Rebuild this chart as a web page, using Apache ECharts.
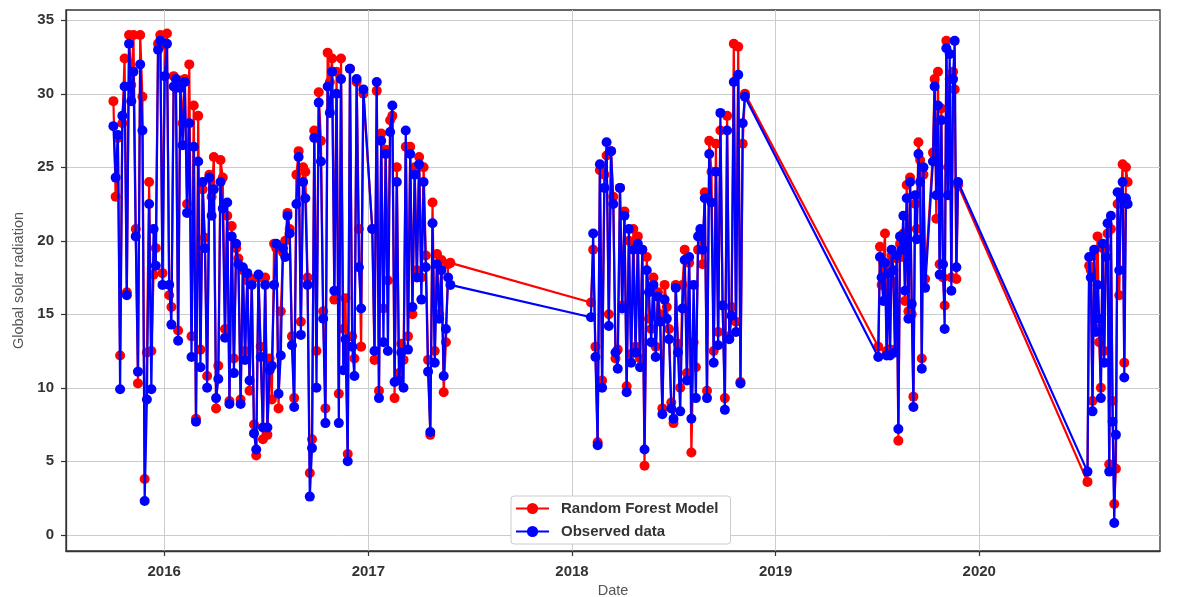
<!DOCTYPE html>
<html>
<head>
<meta charset="utf-8">
<script src="https://cdn.jsdelivr.net/npm/echarts@6/dist/echarts.min.js"></script>
<style>
  html, body { margin: 0; padding: 0; background: #ffffff; overflow: hidden; }
  #chart { width: 1177px; height: 597px; }
</style>
</head>
<body>
<div id="chart"></div>
<script>
// Daily global solar radiation: measured values and Random Forest predictions.
// The record has gaps, so it is kept as runs of readings; each run starts on a
// date and has one reading every `step` days.
const runStarts = ['2015-10-02', '2017-01-08', '2018-02-04', '2019-07-04', '2019-10-10', '2020-07-13'];
const runSteps = [4, 4, 4, 3, 3, 3];

const observedRun1 = [
  27.8, 24.3, 27.2, 9.9, 28.5, 30.5, 16.3, 33.4, 29.5, 31.5,
  20.3, 11.1, 32.0, 27.5, 2.3, 9.2, 22.5, 9.9, 20.8, 18.3,
  33.0, 33.6, 17.0, 31.2, 33.4, 17.0, 14.3, 30.5, 31.0, 13.2,
  30.4, 26.5, 30.8, 21.9, 28.0, 12.1, 26.4, 7.7, 25.4, 11.4,
  24.0, 19.5, 10.0, 24.3, 21.7, 23.5, 9.3, 10.6, 24.0, 22.2,
  13.4, 22.6, 8.9, 20.3, 11.0, 19.8, 18.4, 8.9, 18.2, 11.9,
  17.8, 10.5, 17.0, 6.9, 5.8, 17.7, 12.1, 7.3, 17.0, 7.3,
  11.2, 11.5, 17.0, 19.8, 9.6, 12.2, 19.5, 18.9, 21.7, 20.5,
  12.9, 8.7, 22.5, 25.7, 13.6, 24.0, 22.9, 17.0, 2.6, 5.9,
  27.0, 10.0, 29.4, 25.4, 14.7, 7.6, 30.5, 28.7, 31.5, 16.6,
  30.0, 7.6, 31.0, 11.2, 13.3, 5.0, 31.7, 12.8, 10.8, 31.0,
  18.2, 15.4, 30.3
];
const modelRun1 = [
  29.5, 23.0, 27.0, 12.2, 28.0, 32.4, 16.5, 34.0, 30.6, 34.0,
  20.8, 10.3, 34.0, 29.8, 3.8, 12.4, 24.0, 12.5, 17.7, 19.5,
  33.4, 34.0, 17.8, 33.3, 34.1, 16.3, 15.5, 31.2, 30.4, 13.9,
  30.9, 28.0, 31.0, 22.5, 32.0, 13.5, 29.2, 7.9, 28.5, 12.6,
  23.5, 20.2, 10.8, 24.5, 23.0, 25.7, 8.6, 11.5, 25.5, 24.3,
  14.0, 21.7, 9.1, 21.0, 12.0, 19.5, 18.8, 9.2, 18.0, 12.5,
  17.3, 9.8, 17.4, 7.5, 5.4, 17.5, 12.8, 6.5, 17.5, 6.8,
  12.0, 9.2, 19.8, 19.5, 8.6, 15.2, 19.2, 20.0, 21.9, 20.8,
  13.5, 9.3, 24.5, 26.1, 14.5, 25.0, 24.7, 17.5, 4.2, 6.5,
  27.5, 12.5, 30.1, 26.8, 15.2, 8.6, 32.8, 30.8, 32.4, 16.0,
  31.5, 9.6, 32.4, 14.0, 16.1, 5.5, 31.7, 13.5, 12.0, 30.8,
  20.8, 12.8, 30.0
];

const observedRun2 = [
  20.8, 12.5, 30.8, 9.3, 26.8, 13.1, 25.9, 12.5, 27.4, 29.2,
  10.4, 24.0, 10.5, 12.4, 10.0, 27.5, 12.6, 25.9, 15.5, 24.5,
  17.5, 25.2, 16.0, 24.0, 18.2, 11.1, 7.0, 21.2, 11.7, 18.4,
  14.7, 18.0, 10.8, 14.0, 17.5, 17.0
];
const modelRun2 = [
  20.8, 11.9, 30.2, 9.8, 27.3, 15.4, 26.2, 17.3, 28.2, 28.5,
  9.3, 25.0, 11.0, 13.0, 11.9, 26.4, 13.5, 26.4, 15.0, 25.0,
  18.0, 25.7, 17.5, 25.0, 19.0, 11.9, 6.8, 22.6, 12.5, 19.1,
  15.0, 18.7, 9.7, 13.1, 18.4, 18.5
];

const observedRun3 = [
  14.8, 20.5, 12.1, 6.1, 25.2, 10.0, 23.6, 26.7, 14.2, 26.1,
  22.5, 12.4, 11.3, 23.6, 15.4, 21.7, 9.7, 20.8, 11.7, 19.4,
  12.4, 19.8, 11.4, 19.4, 5.8, 18.0, 16.5, 13.1, 17.0, 12.1,
  16.2, 14.5, 8.2, 16.0, 14.7, 13.3, 8.6, 7.9, 16.8, 12.4,
  8.4, 15.4, 18.7, 10.5, 18.9, 7.9, 17.0, 9.3, 20.3, 20.8,
  19.4, 22.9, 9.3, 25.9, 22.6, 11.7, 24.7, 12.9, 28.7, 15.6,
  8.5, 27.5, 13.3, 14.9, 30.8, 13.8, 31.3, 10.3, 28.0, 29.8
];
const modelRun3 = [
  15.8, 19.4, 12.8, 6.3, 24.8, 10.5, 24.5, 25.8, 15.0, 26.1,
  23.0, 12.0, 12.6, 23.6, 15.6, 22.0, 10.1, 20.0, 12.3, 20.8,
  12.8, 20.3, 12.0, 19.4, 4.7, 18.9, 14.7, 14.0, 17.5, 12.8,
  16.5, 15.0, 8.6, 17.0, 15.5, 14.0, 9.0, 7.6, 17.0, 13.0,
  10.0, 17.0, 19.4, 11.0, 18.5, 5.6, 13.1, 11.4, 19.4, 20.5,
  18.4, 23.3, 9.8, 26.8, 24.7, 12.5, 26.6, 13.8, 27.5, 15.6,
  9.3, 28.5, 13.5, 15.5, 33.4, 14.5, 33.2, 10.4, 26.6, 30.0
];

const observedRun4 = [
  12.1, 18.9, 17.5, 15.9, 18.5, 12.2, 17.8, 12.2, 19.4, 18.0,
  12.4, 19.0, 7.2, 20.3, 19.4, 21.7, 16.6, 22.9, 14.7, 24.0,
  15.7, 8.7, 23.1, 20.1, 25.9, 24.0, 11.3, 25.0, 16.8
];
const modelRun4 = [
  12.8, 19.6, 17.0, 18.5, 20.5, 12.5, 18.4, 12.6, 19.0, 17.2,
  12.6, 18.8, 6.4, 19.8, 18.9, 20.5, 15.9, 23.8, 15.2, 24.3,
  15.0, 9.4, 22.5, 20.8, 26.7, 25.5, 12.0, 24.5, 17.4
];

const observedRun5 = [
  25.4, 30.5, 23.1, 29.2, 17.7, 28.2, 18.4, 14.0, 33.1, 23.1,
  32.7, 16.6, 31.0, 33.6, 18.2, 24.0
];
const modelRun5 = [
  26.0, 31.0, 21.5, 31.5, 18.4, 29.0, 17.5, 15.6, 33.6, 25.0,
  31.0, 17.5, 31.5, 30.3, 17.4, 23.8
];

const observedRun6 = [
  4.3, 18.9, 17.5, 8.4, 19.4, 13.8, 17.0, 14.7, 9.3, 19.8,
  11.7, 18.9, 21.2, 4.3, 21.7, 7.7, 0.8, 6.8, 23.3, 18.0,
  22.9, 24.0, 10.7, 22.9, 22.5
];
const modelRun6 = [
  3.6, 18.3, 18.0, 9.1, 19.0, 14.0, 20.3, 13.1, 10.0, 19.5,
  12.5, 19.5, 20.5, 4.8, 20.8, 9.1, 2.1, 4.5, 22.5, 16.3,
  23.0, 25.2, 11.7, 25.0, 24.0
];

const yearTicks = ['2016-01-01', '2017-01-01', '2018-01-01', '2019-01-01', '2020-01-01'];
const radiationTicks = [0, 5, 10, 15, 20, 25, 30, 35];

const observedRuns = [observedRun1, observedRun2, observedRun3, observedRun4, observedRun5, observedRun6];
const modelRuns = [modelRun1, modelRun2, modelRun3, modelRun4, modelRun5, modelRun6];

const DAY = 86400000;
function toPairs(runs) {
  const out = [];
  runs.forEach(function (vals, r) {
    const t0 = Date.parse(runStarts[r] + 'T00:00:00Z');
    vals.forEach(function (v, i) {
      out.push([t0 + i * runSteps[r] * DAY, v]);
    });
  });
  return out;
}

const yearTickTimes = yearTicks.map(function (d) { return Date.parse(d + 'T00:00:00Z'); });

const FONT = '"Liberation Sans", Arial, Helvetica, sans-serif';
const INK = '#333333';

const chart = echarts.init(document.getElementById('chart'), null, { renderer: 'canvas', width: 1177, height: 597 });
chart.setOption({
  animation: false,
  backgroundColor: '#ffffff',
  textStyle: { fontFamily: FONT },
  grid: {
    left: 66, top: 10, width: 1094, height: 541,
    outerBoundsMode: 'none',
    containLabel: false,
    show: true, borderColor: '#333333', borderWidth: 1.3, backgroundColor: 'transparent'
  },
  legend: {
    orient: 'vertical',
    left: 511, top: 496,
    padding: [5, 12, 5, 4],
    itemWidth: 33, itemHeight: 14, itemGap: 8,
    backgroundColor: '#ffffff',
    borderColor: '#cccccc', borderWidth: 1, borderRadius: 3,
    textStyle: { fontFamily: FONT, fontWeight: 'bold', fontSize: 15, color: INK, padding: [0, 0, 0, 7] },
    data: ['Random Forest Model', 'Observed data']
  },
  xAxis: {
    // dates are stored as UTC milliseconds; labels show the calendar year
    type: 'value',
    min: Date.parse('2015-07-09T00:00:00Z'),
    max: Date.parse('2020-11-20T00:00:00Z'),
    name: 'Date',
    nameLocation: 'middle',
    nameGap: 32,
    nameTextStyle: { fontFamily: FONT, fontSize: 14.5, color: '#555555' },
    axisLine: { show: true, onZero: false, lineStyle: { color: '#333333', width: 1.3 } },
    axisTick: { show: true, length: 5, lineStyle: { color: '#333333', width: 1.2 }, customValues: yearTickTimes },
    axisLabel: {
      customValues: yearTickTimes,
      margin: 13,
      fontFamily: FONT, fontWeight: 'bold', fontSize: 15, color: INK,
      formatter: function (v) { return String(new Date(v).getUTCFullYear()); }
    },
    splitLine: { show: true, lineStyle: { color: '#cccccc', width: 1 }, customValues: yearTickTimes }
  },
  yAxis: {
    type: 'value',
    min: -1.1,
    max: 35.7,
    name: 'Global solar radiation',
    nameLocation: 'middle',
    nameGap: 40,
    nameTextStyle: { fontFamily: FONT, fontSize: 14.5, color: '#555555' },
    axisLine: { show: true, onZero: false, lineStyle: { color: '#333333', width: 1.3 } },
    axisTick: { show: true, length: 5, lineStyle: { color: '#333333', width: 1.2 }, customValues: radiationTicks },
    axisLabel: {
      customValues: radiationTicks,
      margin: 12,
      fontFamily: FONT, fontWeight: 'bold', fontSize: 15, color: INK
    },
    splitLine: { show: true, lineStyle: { color: '#cccccc', width: 1 }, customValues: radiationTicks }
  },
  series: [
    {
      name: 'Random Forest Model',
      type: 'line',
      data: toPairs(modelRuns),
      symbol: 'circle', symbolSize: 10, showAllSymbol: true,
      color: '#ff0000',
      lineStyle: { color: '#ff0000', width: 2.2 },
      itemStyle: { color: '#ff0000' },
      z: 2
    },
    {
      name: 'Observed data',
      type: 'line',
      data: toPairs(observedRuns),
      symbol: 'circle', symbolSize: 10, showAllSymbol: true,
      color: '#0000ff',
      lineStyle: { color: '#0000ff', width: 2.2 },
      itemStyle: { color: '#0000ff' },
      z: 3
    }
  ]
});
</script>
</body>
</html>
